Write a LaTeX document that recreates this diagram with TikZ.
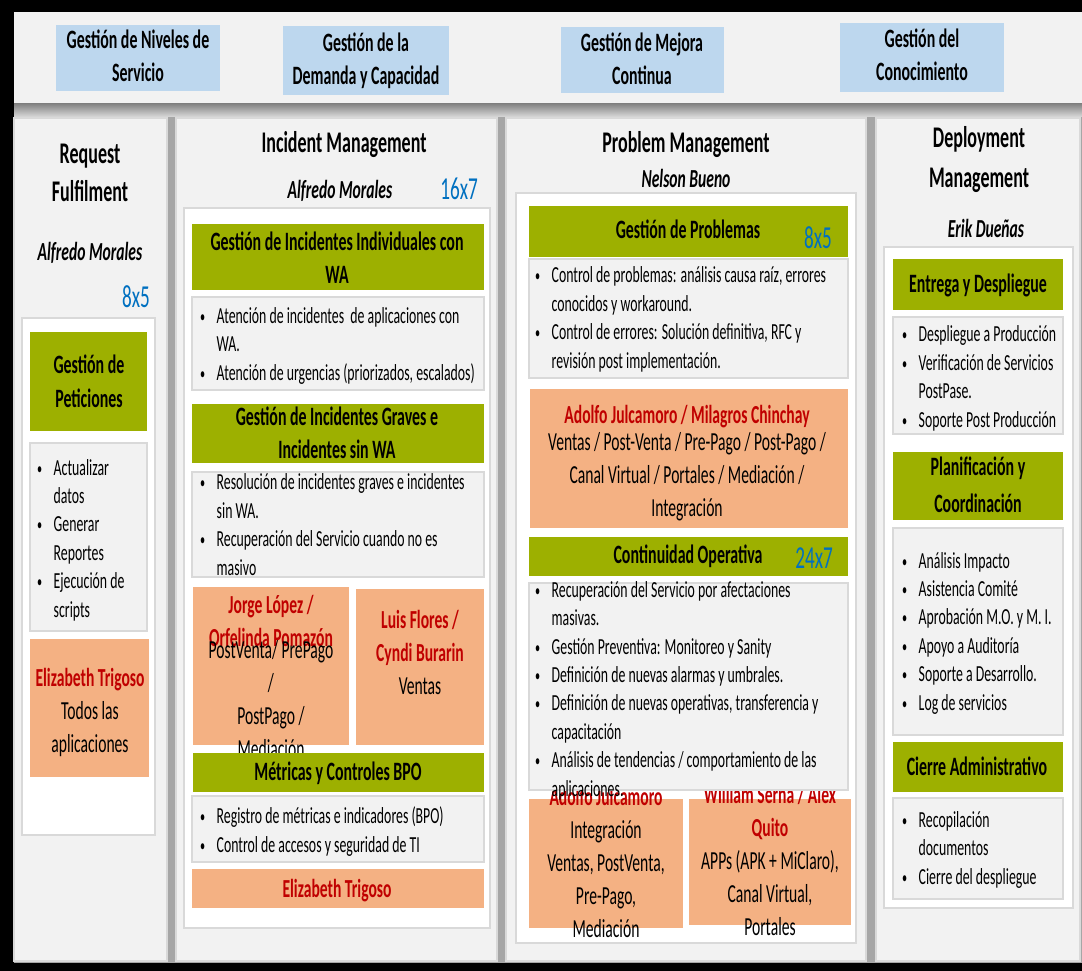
\documentclass[tikz,border=0pt]{standalone}
\usepackage{fontspec}
\setmainfont{Carlito}[FakeStretch=0.6]
\definecolor{Olive}{HTML}{9DB000}
\definecolor{Peach}{HTML}{F4B183}
\definecolor{Sky}{HTML}{BDD7EE}
\definecolor{Brick}{HTML}{C00000}
\definecolor{Azure}{HTML}{0070C0}
\definecolor{Paper}{HTML}{F2F2F2}
\definecolor{Rule}{HTML}{D9D9D9}
\definecolor{Steel}{HTML}{A6A6A6}
\newcommand\itm{\makebox[16.5pt][l]{\raisebox{1pt}{\fontsize{17}{17}\selectfont\textbullet}}}
\newcommand\ind{\hspace*{16.5pt}}
\newcommand\rname[1]{\textcolor{Brick}{\bfseries #1}}

\begin{document}
\begin{tikzpicture}[x=1pt,y=-1pt,every node/.style={inner sep=0,anchor=base},
  ttl/.style={font=\bfseries\fontsize{30}{38}\selectfont,align=center},
  hd/.style={font=\bfseries\fontsize{26.5}{33}\selectfont,align=center},
  who/.style={font=\bfseries\itshape\fontsize{26}{28}\selectfont},
  hrs/.style={anchor=base east,text=Azure,font=\fontsize{32}{32}\selectfont},
  bul/.style={anchor=base west,align=left,font=\fontsize{23}{28.4}\selectfont},
  ptx/.style={align=center,font=\fontsize{26}{33}\selectfont},
  lst/.style={fill=Paper,draw=Rule,line width=1.5pt},
  wht/.style={fill=white,draw=Rule,line width=1.5pt}]
\useasboundingbox (0,0) rectangle (1082,971);
\fill[black] (0,0) rectangle (1082,971);
\fill[Paper] (14,12) rectangle (1082,104);
\fill[Steel] (14,104) rectangle (1082,963);
\shade[top color=Steel!80!black,bottom color=Rule] (14,104) rectangle (1082,117);
\filldraw[fill=Paper,draw=Rule,line width=1.5pt] (14,118) rectangle (167,961);
\filldraw[fill=Paper,draw=Rule,line width=1.5pt] (176,118) rectangle (497,961);
\filldraw[fill=Paper,draw=Rule,line width=1.5pt] (506,118) rectangle (866,961);
\filldraw[fill=Paper,draw=Rule,line width=1.5pt] (876,118) rectangle (1080,961);
% top row
\fill[Sky] (56,25) rectangle (220,91);
\fill[Sky] (283,26) rectangle (449,95);
\fill[Sky] (561,27) rectangle (724,93);
\fill[Sky] (840,23) rectangle (1004,92);
\node[hd] (sla) at (138,82) {Gestión de Niveles de\\Servicio};
\node[hd] (dem) at (366,85) {Gestión de la\\Demanda y Capacidad};
\node[hd] (mej) at (642,85) {Gestión de Mejora\\Continua};
\node[hd] (con) at (922,81) {Gestión del\\Conocimiento};
% request fulfilment
\node[ttl] (rf) at (90,201) {Request\\Fulfilment};
\node[who] (rfwho) at (90,260) {Alfredo Morales};
\node[hrs] (rfhrs) at (150,307) {8x5};
\filldraw[wht] (22,318) rectangle (155,835);
\fill[Olive] (30,332) rectangle (147,431);
\node[hd,font=\bfseries\fontsize{26.5}{34}\selectfont] (pet) at (89,407) {Gestión de\\Peticiones};
\filldraw[lst] (30,443) rectangle (147,631);
\node[bul] (petl) at (37,617) {\itm Actualizar\\\ind datos\\\itm Generar\\\ind Reportes\\\itm Ejecución de\\\ind scripts};
\fill[Peach] (30,639) rectangle (149,777);
\node[ptx] (rfet) at (90,752) {\rname{Elizabeth Trigoso}\\Todos las\\aplicaciones};
% incident management
\node[ttl] (im) at (344,153) {Incident Management};
\node[who] (imwho) at (340,198) {Alfredo Morales};
\node[hrs] (imhrs) at (478,200) {16x7};
\filldraw[wht] (184,208) rectangle (490,928);
\fill[Olive] (192,224) rectangle (484,290);
\node[hd] (ind) at (337,283) {Gestión de Incidentes Individuales con\\WA};
\filldraw[lst] (192,297) rectangle (484,390);
\node[bul] (indl) at (200,380) {\itm Atención de incidentes\ \ de aplicaciones con\\\ind WA.\\\itm Atención de urgencias (priorizados, escalados)};
\fill[Olive] (192,404) rectangle (484,463);
\node[hd] (grv) at (337,458) {Gestión de Incidentes Graves e\\Incidentes sin WA};
\filldraw[lst] (192,472) rectangle (484,577);
\node[bul] (grvl) at (200,575) {\itm Resolución de incidentes graves e incidentes\\\ind sin WA.\\\itm Recuperación del Servicio cuando no es\\\ind masivo};
\fill[Peach] (193,587) rectangle (349,745);
\fill[Peach] (356,589) rectangle (484,745);
\node[ptx] (jl) at (271,646) {\rname{Jorge López /}\\\rname{Orfelinda Pomazón}};
\node[ptx] (jlapp) at (271,757) {PostVenta/ PrePago\\/\\PostPago /\\Mediación};
\node[ptx] (lf) at (420,694) {\rname{Luis Flores /}\\\rname{Cyndi Burarin}\\Ventas};
\fill[Olive] (193,753) rectangle (484,792);
\node[hd] (met) at (338,780) {Métricas y Controles BPO};
\filldraw[lst] (192,796) rectangle (484,862);
\node[bul] (metl) at (200,852) {\itm Registro de métricas e indicadores (BPO)\\\itm Control de accesos y seguridad de TI};
\fill[Peach] (192,869) rectangle (484,908);
\node[ptx] (imet) at (337,897) {\rname{Elizabeth Trigoso}};
% problem management
\node[ttl] (pm) at (686,153) {Problem Management};
\node[who] (pmwho) at (686,188) {Nelson Bueno};
\filldraw[wht] (516,193) rectangle (856,943);
\fill[Olive] (529,206) rectangle (848,257);
\node[hd] (gp) at (688,238) {Gestión de Problemas};
\node[hrs] (gphrs) at (832,248) {8x5};
\filldraw[lst] (529,259) rectangle (848,378);
\node[bul] (gpl) at (535,368) {\itm Control de problemas: análisis causa raíz, errores\\\ind conocidos y workaround.\\\itm Control de errores: Solución definitiva, RFC y\\\ind revisión post implementación.};
\fill[Peach] (530,389) rectangle (848,528);
\node[ptx] (aj) at (687,423) {\rname{Adolfo Julcamoro / Milagros Chinchay}};
\node[ptx] (ajapp) at (687,516) {Ventas / Post-Venta / Pre-Pago / Post-Pago /\\Canal Virtual / Portales / Mediación /\\Integración};
\fill[Olive] (529,537) rectangle (848,576);
\node[hd] (co) at (688,563) {Continuidad Operativa};
\node[hrs] (cohrs) at (833,568) {24x7};
\fill[Peach] (529,799) rectangle (683,928);
\fill[Peach] (689,799) rectangle (851,925);
\node[ptx] (aj2) at (606,805) {\rname{Adolfo Julcamoro}};
\node[ptx] (aj2app) at (606,937) {Integración\\Ventas, PostVenta,\\Pre-Pago,\\Mediación};
\node[ptx] (ws) at (770,836) {\rname{William Serna / Alex}\\\rname{Quito}};
\node[ptx] (wsapp) at (770,935) {APPs (APK + MiClaro),\\Canal Virtual,\\Portales};
\filldraw[lst] (529,583) rectangle (848,790);
\node[bul] (col) at (535,796) {\itm Recuperación del Servicio por afectaciones\\\ind masivas.\\\itm Gestión Preventiva: Monitoreo y Sanity\\\itm Definición de nuevas alarmas y umbrales.\\\itm Definición de nuevas operativas, transferencia y\\\ind capacitación\\\itm Análisis de tendencias / comportamiento de las\\\ind aplicaciones.};
% deployment management
\node[ttl,font=\bfseries\fontsize{30}{40}\selectfont] (dm) at (979,188) {Deployment\\Management};
\node[who] (dmwho) at (986,237) {Erik Dueñas};
\filldraw[wht] (884,247) rectangle (1073,908);
\fill[Olive] (893,259) rectangle (1063,310);
\node[hd] (ed) at (978,292) {Entrega y Despliegue};
\filldraw[lst] (893,317) rectangle (1063,434);
\node[bul] (edl) at (902,427) {\itm Despliegue a Producción\\\itm Verificación de Servicios\\\ind PostPase.\\\itm Soporte Post Producción};
\fill[Olive] (893,452) rectangle (1063,520);
\node[hd,font=\bfseries\fontsize{26.5}{37}\selectfont] (pc) at (978,512) {Planificación y\\Coordinación};
\filldraw[lst] (893,528) rectangle (1063,735);
\node[bul] (pcl) at (902,710) {\itm Análisis Impacto\\\itm Asistencia Comité\\\itm Aprobación M.O. y M. I.\\\itm Apoyo a Auditoría\\\itm Soporte a Desarrollo.\\\itm Log de servicios};
\fill[Olive] (893,742) rectangle (1063,792);
\node[hd] (ca) at (977,775) {Cierre Administrativo};
\filldraw[lst] (893,798) rectangle (1063,899);
\node[bul] (cal) at (902,884) {\itm Recopilación\\\ind documentos\\\itm Cierre del despliegue};
\end{tikzpicture}
\end{document}
